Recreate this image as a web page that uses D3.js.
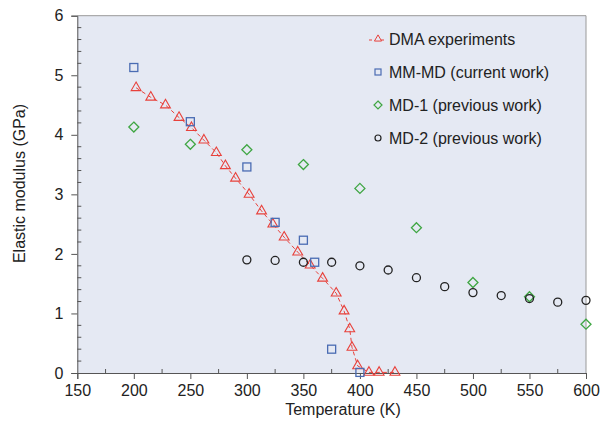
<!DOCTYPE html>
<html><head><meta charset="utf-8">
<script src="https://cdn.jsdelivr.net/npm/d3@7"></script>
<style>body{margin:0;background:#fff;} text{font-family:"Liberation Sans",Arial,sans-serif;}</style>
</head><body>
<svg id="c" width="602" height="423"></svg>
<script>
const dmaT = [202, 215, 228, 240, 251, 262, 273, 281, 290, 302, 313, 323, 333, 345, 356, 367, 379, 386, 391, 393, 398, 408, 417, 431];
const dmaE = [4.79, 4.63, 4.50, 4.29, 4.12, 3.91, 3.70, 3.48, 3.27, 3.00, 2.72, 2.50, 2.28, 2.03, 1.81, 1.59, 1.34, 1.04, 0.74, 0.43, 0.12, 0.01, 0.01, 0.01];
const mmT = [200, 250, 300, 325, 350, 360, 375, 400];
const mmE = [5.13, 4.22, 3.46, 2.53, 2.23, 1.86, 0.40, 0.01];
const md1T = [200, 250, 300, 350, 400, 450, 500, 550, 600];
const md1E = [4.13, 3.84, 3.75, 3.50, 3.10, 2.44, 1.52, 1.28, 0.82];
const md2T = [300, 325, 350, 375, 400, 425, 450, 475, 500, 525, 550, 575, 600];
const md2E = [1.90, 1.89, 1.86, 1.86, 1.80, 1.73, 1.60, 1.45, 1.35, 1.30, 1.25, 1.19, 1.22];
const xTicks = [150, 200, 250, 300, 350, 400, 450, 500, 550, 600];
const yTicks = [0, 1, 2, 3, 4, 5, 6];
const legendLabels = ["DMA experiments", "MM-MD (current work)", "MD-1 (previous work)", "MD-2 (previous work)"];

const svg = d3.select("#c");
const L = 77.3, R = 586, T = 15.7, B = 373;
const FS = 16;
const x = d3.scaleLinear().domain([150, 600]).range([L, R]);
const y = d3.scaleLinear().domain([0, 6]).range([B, T]);
const red = "#e8413b", blue = "#4a6cb3", green = "#3fa643", black = "#222";

svg.append("rect").attr("x", L).attr("y", T).attr("width", R - L).attr("height", B - T).attr("fill", "#e5e9f3");
svg.append("path").attr("d", `M${L},${T}H${R}V${B}`).attr("fill", "none").attr("stroke", "#999").attr("stroke-width", 1);

// x axis
const xa = svg.append("g").attr("transform", `translate(0,${B})`)
  .call(d3.axisBottom(x).tickValues(xTicks).tickSize(6).tickPadding(6).tickFormat(d3.format("d")));
xa.select(".domain").attr("stroke", "#555");
xa.selectAll(".tick line").attr("stroke", "#555");
xa.selectAll("text").attr("font-size", FS).attr("fill", "#222").attr("font-family", "Liberation Sans, Arial, sans-serif");
const xMinor = d3.range(175, 600, 50);
svg.append("g").selectAll("line").data(xMinor).join("line")
  .attr("x1", d => x(d)).attr("x2", d => x(d)).attr("y1", B).attr("y2", B - 4).attr("stroke", "#555");

// y axis
const ya = svg.append("g").attr("transform", `translate(${L},0)`)
  .call(d3.axisLeft(y).tickValues(yTicks).tickSize(6).tickPadding(8).tickFormat(d3.format("d")));
ya.select(".domain").attr("stroke", "#555");
ya.selectAll(".tick line").attr("stroke", "#555");
ya.selectAll("text").attr("font-size", FS).attr("fill", "#222").attr("font-family", "Liberation Sans, Arial, sans-serif");
const yMinor = d3.range(0, 6.01, 0.2).filter(v => Math.abs(v - Math.round(v)) > 0.01);
svg.append("g").selectAll("line").data(yMinor).join("line")
  .attr("x1", L).attr("x2", L + 4).attr("y1", d => y(d)).attr("y2", d => y(d)).attr("stroke", "#555");

svg.append("text").attr("x", 343).attr("y", 415).attr("text-anchor", "middle").attr("font-size", FS).attr("fill", "#222").text("Temperature (K)");
svg.append("text").attr("transform", `translate(25,183.5) rotate(-90)`).attr("text-anchor", "middle").attr("font-size", FS).attr("fill", "#222").text("Elastic modulus (GPa)");

const tri = d3.symbol().type(d3.symbolTriangle).size(42);
const dma = dmaT.map((t, i) => [t, dmaE[i]]);
svg.append("path").datum(dma).attr("d", d3.line().x(d => x(d[0])).y(d => y(d[1])))
  .attr("fill", "none").attr("stroke", red).attr("stroke-width", 1).attr("stroke-dasharray", "4,3");
svg.append("g").selectAll("path").data(dma).join("path")
  .attr("transform", d => `translate(${x(d[0])},${y(d[1])})`).attr("d", tri)
  .attr("fill", "none").attr("stroke", red).attr("stroke-width", 1.1);

svg.append("g").selectAll("rect").data(mmT.map((t, i) => [t, mmE[i]])).join("rect")
  .attr("x", d => x(d[0]) - 4).attr("y", d => y(d[1]) - 4).attr("width", 8).attr("height", 8)
  .attr("fill", "none").attr("stroke", blue).attr("stroke-width", 1.3);

svg.append("g").selectAll("path").data(md1T.map((t, i) => [t, md1E[i]])).join("path")
  .attr("d", d => { const cx = x(d[0]), cy = y(d[1]), r = 5; return `M${cx},${cy - r}L${cx + r},${cy}L${cx},${cy + r}L${cx - r},${cy}Z`; })
  .attr("fill", "none").attr("stroke", green).attr("stroke-width", 1.3);

svg.append("g").selectAll("circle").data(md2T.map((t, i) => [t, md2E[i]])).join("circle")
  .attr("cx", d => x(d[0])).attr("cy", d => y(d[1])).attr("r", 4)
  .attr("fill", "none").attr("stroke", black).attr("stroke-width", 1.3);

// legend
const lg = svg.append("g");
const rowsY = [39, 72, 105, 138];
legendLabels.forEach((lab, i) => {
  const cy = rowsY[i], sx = 378;
  if (i === 0) {
    lg.append("line").attr("x1", 369).attr("x2", 387).attr("y1", cy + 1).attr("y2", cy + 1).attr("stroke", red).attr("stroke-dasharray", "3,3").attr("stroke-width", 1);
    lg.append("path").attr("transform", `translate(${sx},${cy})`).attr("d", d3.symbol().type(d3.symbolTriangle).size(22)).attr("fill", "#e5e9f3").attr("stroke", red);
  } else if (i === 1) {
    lg.append("rect").attr("x", sx - 3).attr("y", cy - 3).attr("width", 6).attr("height", 6).attr("fill", "none").attr("stroke", blue).attr("stroke-width", 1.2);
  } else if (i === 2) {
    lg.append("path").attr("d", `M${sx},${cy - 4}L${sx + 4},${cy}L${sx},${cy + 4}L${sx - 4},${cy}Z`).attr("fill", "none").attr("stroke", green).attr("stroke-width", 1.2);
  } else {
    lg.append("circle").attr("cx", sx).attr("cy", cy).attr("r", 3).attr("fill", "none").attr("stroke", black).attr("stroke-width", 1.2);
  }
  lg.append("text").attr("x", 389).attr("y", cy + 6).attr("font-size", FS).attr("fill", "#222").text(lab);
});
</script>
</body></html>
